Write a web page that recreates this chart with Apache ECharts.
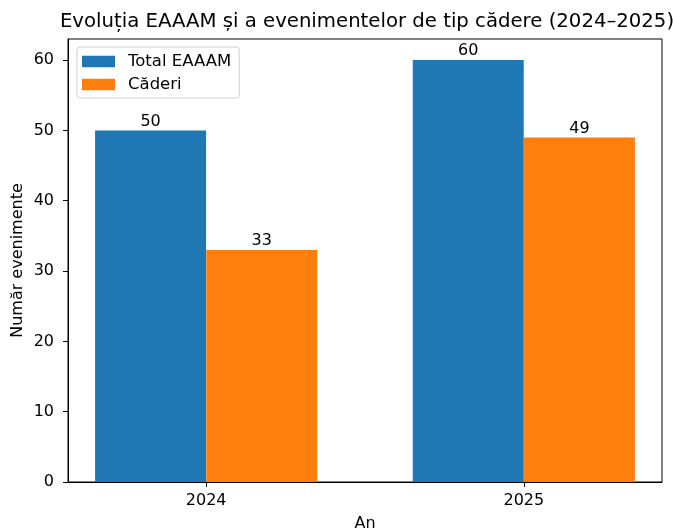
<!DOCTYPE html>
<html>
<head>
<meta charset="utf-8">
<script src="https://cdn.jsdelivr.net/npm/echarts@6/dist/echarts.min.js"></script>
<style>
  html, body { margin: 0; padding: 0; background: #fff; }
  #chart { width: 673px; height: 529px; }
</style>
</head>
<body>
<div id="chart"></div>
<script>
// date
const years = ['2024', '2025'];
const totalEaaam = [50, 60];
const caderi = [33, 49];
const yTicks = [0, 10, 20, 30, 40, 50, 60];

const font = 'DejaVu Sans';
const barW = 0.35; // latimea barei in unitati de axa
const fs = 16; // marime font etichete

const chart = echarts.init(document.getElementById('chart'));

const option = {
  animation: false,
  textStyle: { fontFamily: font },
  title: {
    text: 'Evoluția EAAAM și a evenimentelor de tip cădere (2024–2025)',
    left: 362,
    textAlign: 'center',
    top: 7,
    textStyle: { fontFamily: font, fontSize: 19.7, fontWeight: 'normal', color: '#000' }
  },
  legend: {
    orient: 'vertical',
    left: 77,
    top: 47,
    padding: [6, 8, 5, 5],
    itemGap: 6,
    itemWidth: 33,
    itemHeight: 11.5,
    icon: 'rect',
    backgroundColor: '#fff',
    borderColor: '#d0d0d0',
    borderWidth: 1,
    borderRadius: 3,
    textStyle: { fontFamily: font, fontSize: 16.5, color: '#000', padding: [0, 0, 0, 8] },
    data: ['Total EAAAM', 'Căderi']
  },
  grid: {
    left: 68, top: 39, right: 11, bottom: 47,
    outerBoundsMode: 'none',
    show: true, borderColor: '#000', borderWidth: 1
  },
  xAxis: {
    type: 'value',
    min: -0.435,
    max: 1.435,
    name: 'An',
    nameLocation: 'middle',
    nameGap: 34,
    nameMoveOverlap: false,
    nameTextStyle: { fontFamily: font, fontSize: fs, color: '#000' },
    axisLine: { show: true, onZero: false, lineStyle: { color: '#000' } },
    axisTick: { show: true, inside: false, length: 5, customValues: years.map((y, i) => i), lineStyle: { color: '#000' } },
    axisLabel: {
      customValues: years.map((y, i) => i),
      formatter: v => years[Math.round(v)],
      fontFamily: font, fontSize: fs, color: '#000', margin: 11
    },
    splitLine: { show: false }
  },
  yAxis: {
    type: 'value',
    min: 0,
    max: 63,
    name: 'Număr evenimente',
    nameLocation: 'middle',
    nameGap: 42,
    nameMoveOverlap: false,
    nameTextStyle: { fontFamily: font, fontSize: fs, color: '#000' },
    axisLine: { show: true, onZero: false, lineStyle: { color: '#000' } },
    axisTick: { show: true, length: 5, customValues: yTicks, lineStyle: { color: '#000' } },
    axisLabel: {
      customValues: yTicks,
      fontFamily: font, fontSize: fs, color: '#000', margin: 14
    },
    splitLine: { show: false }
  },
  series: [
    {
      name: 'Total EAAAM',
      type: 'bar',
      barWidth: 111,
      barGap: '-100%',
      itemStyle: { color: '#1f77b4' },
      label: { show: true, position: 'top', distance: 1, color: '#000', fontFamily: font, fontSize: fs },
      data: years.map((y, i) => [i - barW / 2, totalEaaam[i]])
    },
    {
      name: 'Căderi',
      type: 'bar',
      barWidth: 111,
      barGap: '-100%',
      itemStyle: { color: '#ff7f0e' },
      label: { show: true, position: 'top', distance: 1, color: '#000', fontFamily: font, fontSize: fs },
      data: years.map((y, i) => [i + barW / 2, caderi[i]])
    }
  ]
};

chart.setOption(option);
</script>
</body>
</html>
